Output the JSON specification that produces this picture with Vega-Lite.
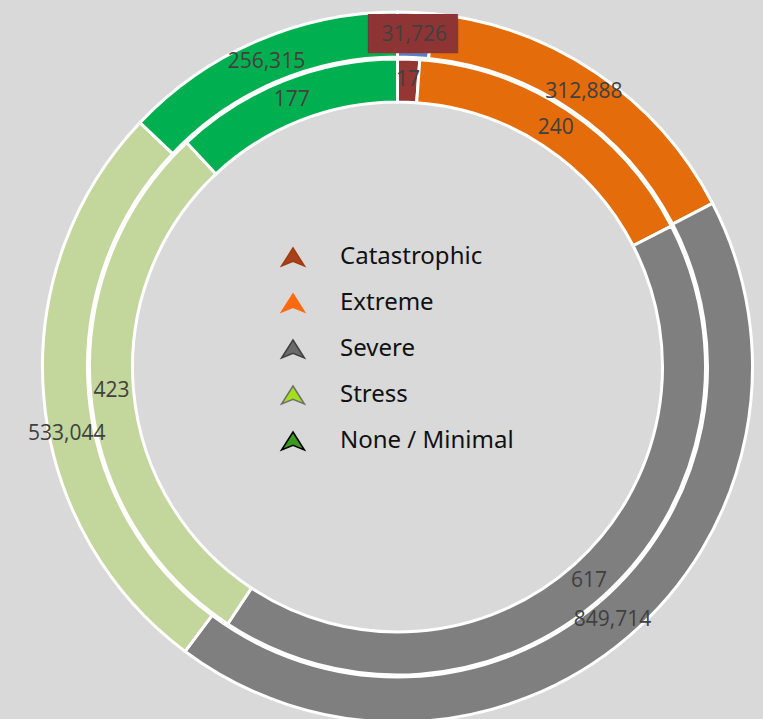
{
  "$schema": "https://vega.github.io/schema/vega-lite/v6.json",
  "width": 731,
  "height": 704,
  "autosize": {"type": "none"},
  "padding": {"left": 32, "top": 15, "right": 0, "bottom": 0},
  "background": "#d9d9d9",
  "config": {
    "view": {"stroke": null},
    "legend": {
      "labelFont": "Noto Sans",
      "labelFontSize": 24,
      "labelColor": "#111111",
      "labelOffset": 34,
      "rowPadding": 21,
      "symbolSize": 576,
      "symbolType": "M0,-0.75L0.95,0.75L0,0.35L-0.95,0.75Z",
      "symbolStrokeWidth": 1.5,
      "padding": 0,
      "labelLimit": 400
    }
  },
  "data": {
    "values": [
      {"ring": "outer", "category": "Catastrophic", "rank": 1, "value": 31726},
      {"ring": "outer", "category": "Extreme", "rank": 2, "value": 312888},
      {"ring": "outer", "category": "Severe", "rank": 3, "value": 849714},
      {"ring": "outer", "category": "Stress", "rank": 4, "value": 533044},
      {"ring": "outer", "category": "None / Minimal", "rank": 5, "value": 256315},
      {"ring": "inner", "category": "Catastrophic", "rank": 1, "value": 17},
      {"ring": "inner", "category": "Extreme", "rank": 2, "value": 240},
      {"ring": "inner", "category": "Severe", "rank": 3, "value": 617},
      {"ring": "inner", "category": "Stress", "rank": 4, "value": 423},
      {"ring": "inner", "category": "None / Minimal", "rank": 5, "value": 177}
    ]
  },
  "layer": [
    {
      "transform": [{"filter": "datum.ring === 'outer'"}],
      "mark": {"type": "arc", "outerRadius": 355, "innerRadius": 310, "stroke": "white", "strokeWidth": 3},
      "encoding": {
        "theta": {"field": "value", "type": "quantitative", "stack": true},
        "order": {"field": "rank", "type": "quantitative"},
        "color": {
          "field": "category", "type": "nominal",
          "scale": {"domain": ["Catastrophic", "Extreme", "Severe", "Stress", "None / Minimal"], "range": ["#5B7FC4", "#E46C0A", "#7F7F7F", "#C3D69B", "#00B050"]},
          "legend": null
        }
      }
    },
    {
      "transform": [{"filter": "datum.ring === 'inner'"}],
      "mark": {"type": "arc", "outerRadius": 308, "innerRadius": 265, "stroke": "white", "strokeWidth": 3},
      "encoding": {
        "theta": {"field": "value", "type": "quantitative", "stack": true},
        "order": {"field": "rank", "type": "quantitative"},
        "color": {
          "field": "category", "type": "nominal",
          "scale": {"domain": ["Catastrophic", "Extreme", "Severe", "Stress", "None / Minimal"], "range": ["#943634", "#E46C0A", "#7F7F7F", "#C3D69B", "#00B050"]},
          "legend": null
        }
      }
    },
    {
      "transform": [{"filter": "datum.ring === 'outer'"}],
      "mark": {"type": "text", "radius": 332, "font": "DejaVu Sans Mono", "fontSize": 33, "color": "#8E3434", "align": "center", "baseline": "middle", "dx": 4},
      "encoding": {
        "theta": {"field": "value", "type": "quantitative", "stack": true},
        "order": {"field": "rank", "type": "quantitative"},
        "text": {"condition": {"test": "datum.category === 'Catastrophic'", "value": "████▌"}, "value": ""}
      }
    },
    {
      "transform": [{"filter": "datum.ring === 'outer'"}],
      "mark": {"type": "text", "radius": 332, "font": "Open Sans", "fontSize": 21, "color": "#404040", "align": "center", "baseline": "middle"},
      "encoding": {
        "theta": {"field": "value", "type": "quantitative", "stack": true},
        "order": {"field": "rank", "type": "quantitative"},
        "text": {"condition": {"test": "datum.category !== 'Stress'", "field": "value", "format": ","}, "value": ""}
      }
    },
    {
      "transform": [{"filter": "datum.ring === 'outer'"}],
      "mark": {"type": "text", "radius": 332, "font": "Open Sans", "fontSize": 21, "color": "#404040", "align": "center", "baseline": "middle", "dy": 39},
      "encoding": {
        "theta": {"field": "value", "type": "quantitative", "stack": true},
        "order": {"field": "rank", "type": "quantitative"},
        "text": {"condition": {"test": "datum.category === 'Stress'", "field": "value", "format": ","}, "value": ""}
      }
    },
    {
      "transform": [{"filter": "datum.ring === 'inner'"}],
      "mark": {"type": "text", "radius": 287, "font": "Open Sans", "fontSize": 21, "color": "#404040", "align": "center", "baseline": "middle"},
      "encoding": {
        "theta": {"field": "value", "type": "quantitative", "stack": true},
        "order": {"field": "rank", "type": "quantitative"},
        "text": {"field": "value", "type": "quantitative", "format": ","}
      }
    },
    {
      "transform": [{"filter": "datum.ring === 'outer'"}],
      "mark": {"type": "point", "filled": true, "opacity": 0, "shape": "M0,-0.75L0.95,0.75L0,0.35L-0.95,0.75Z", "size": 576},
      "encoding": {
        "fill": {
          "field": "category", "type": "nominal",
          "scale": {"domain": ["Catastrophic", "Extreme", "Severe", "Stress", "None / Minimal"], "range": ["#A8401A", "#FF6A10", "#6B6B6B", "#A4E01A", "#3A9A20"]},
          "legend": {
            "title": null, "orient": "none", "legendX": 248, "legendY": 229,
            "encode": {
              "symbols": {
                "update": {
                  "opacity": {"value": 1},
                  "fillOpacity": {"value": 1},
                  "strokeWidth": {"value": 1.5},
                  "stroke": {"signal": "datum.value === 'Catastrophic' ? '#A03A10' : datum.value === 'Extreme' ? '#FF6A10' : datum.value === 'Severe' ? '#404040' : datum.value === 'Stress' ? '#707070' : '#000000'"}
                }
              }
            }
          }
        }
      }
    }
  ],
  "resolve": {"scale": {"theta": "independent", "color": "independent"}}
}
